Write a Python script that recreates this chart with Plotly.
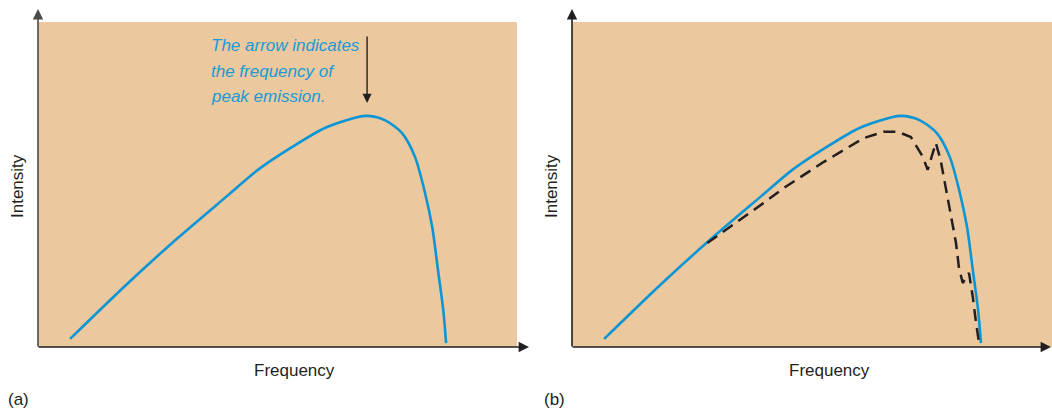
import plotly.graph_objects as go
from plotly.subplots import make_subplots

# ---- data (arbitrary units) ----
freq_blackbody = [0.67, 1.86, 2.90, 3.95, 4.59, 5.30, 5.99, 6.68, 6.89, 7.24, 7.60,
                  7.87, 8.08, 8.23, 8.35, 8.46, 8.52]
int_blackbody = [0.25, 1.94, 3.33, 4.65, 5.45, 6.15, 6.74, 7.08, 7.11, 6.98, 6.58,
                 5.85, 4.74, 3.69, 2.37, 1.14, 0.12]

freq_real = [2.82, 3.15, 3.57, 3.99, 4.41, 4.82, 5.24, 5.66, 6.08, 6.49, 6.79, 7.06, 7.16, 7.31, 7.41,
             7.58, 7.68, 7.79, 7.89, 8.00, 8.06, 8.14, 8.27, 8.35, 8.41, 8.48]
int_real = [3.20, 3.54, 4.00, 4.43, 4.89, 5.29, 5.69, 6.06, 6.43, 6.62, 6.62, 6.46, 6.22, 5.85, 5.45,
            6.28, 5.75, 4.83, 4.00, 3.20, 2.46, 1.97, 2.28, 1.54, 0.83, 0.12]

peak_freq = 6.87
arrow_tip_int = 7.51
note_lines = ["The arrow indicates", "the frequency of", "peak emission."]

W, H = 1052, 411
BG = "#EBC89E"
BLUE = "#0A96D6"
INK = "#231F20"

def px(x):
    return x / W

def py(y):
    return (H - y) / H

fig = make_subplots(rows=1, cols=2)
fig.update_layout(
    width=W, height=H, margin=dict(l=0, r=0, t=0, b=0),
    paper_bgcolor="white", plot_bgcolor=BG, showlegend=False,
    font=dict(family="Liberation Sans, Arial, sans-serif", color=INK),
)
fig.update_xaxes(domain=[px(38), px(517)], row=1, col=1)
fig.update_xaxes(domain=[px(572), 1.0], row=1, col=2)
for c in (1, 2):
    fig.update_xaxes(range=[0, 10], showgrid=False, zeroline=False, showticklabels=False,
                     ticks="", showline=False, fixedrange=True, row=1, col=c)
    fig.update_yaxes(range=[0, 10], domain=[py(347), py(22)], showgrid=False, zeroline=False,
                     showticklabels=False, ticks="", showline=False, fixedrange=True, row=1, col=c)

for c in (1, 2):
    fig.add_trace(go.Scatter(x=freq_blackbody, y=int_blackbody, mode="lines",
                             line=dict(color=BLUE, width=2.6, shape="spline", smoothing=0.8),
                             hoverinfo="skip"), row=1, col=c)

fig.add_trace(go.Scatter(x=freq_real, y=int_real, mode="lines",
                         line=dict(color=INK, width=2.5, dash="12px,7px"),
                         hoverinfo="skip"), row=1, col=2)

ann = []

def arrow(x0, y0, x1, y1, color="#333333"):
    ann.append(dict(xref="paper", yref="paper", x=px(x1), y=py(y1), ax=x0 - x1, ay=y0 - y1,
                    axref="pixel", ayref="pixel", text="", showarrow=True, arrowhead=2,
                    arrowsize=1.3, arrowwidth=1.6, arrowcolor=color, standoff=0))

arrow(38, 348, 38, 9, "#4a4a4a")
arrow(37, 347, 529, 347, INK)
arrow(572, 348, 572, 9, INK)
arrow(571, 347, 1063, 347, INK)

# peak arrow
ann.append(dict(xref="x", yref="y", x=peak_freq, y=arrow_tip_int, ax=0, ay=-68,
                text="", showarrow=True, arrowhead=2, arrowsize=1.3, arrowwidth=1.4,
                arrowcolor=INK, standoff=0))
note_font = dict(family="Liberation Sans, Arial, sans-serif", size=17, color="#1A9AD6", style="italic")
for i, t in enumerate(note_lines):
    ann.append(dict(xref="paper", yref="paper", x=px(209), y=py(46 + 25 * i), xanchor="left",
                    yanchor="middle", text=t, showarrow=False, font=note_font))

lab_font = dict(family="Liberation Sans, Arial, sans-serif", size=17, color=INK)
for xc in (17, 551):
    ann.append(dict(xref="paper", yref="paper", x=px(xc), y=py(186), text="Intensity",
                    textangle=-90, showarrow=False, font=lab_font, xanchor="center", yanchor="middle"))
for xc in (294, 829):
    ann.append(dict(xref="paper", yref="paper", x=px(xc), y=py(370), text="Frequency",
                    showarrow=False, font=lab_font, xanchor="center", yanchor="middle"))
ann.append(dict(xref="paper", yref="paper", x=px(18), y=py(399), text="(a)",
                showarrow=False, font=lab_font, xanchor="center", yanchor="middle"))
ann.append(dict(xref="paper", yref="paper", x=px(554), y=py(399), text="(b)",
                showarrow=False, font=lab_font, xanchor="center", yanchor="middle"))

fig.update_layout(annotations=ann)
fig.write_html("out.html", config={"displayModeBar": False, "staticPlot": True},
               post_script="document.body.style.margin='0';document.body.style.overflow='hidden';")
